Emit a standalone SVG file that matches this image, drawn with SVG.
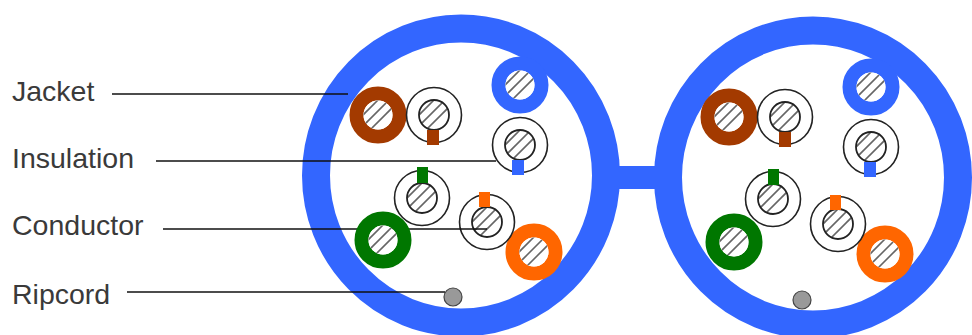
<svg xmlns="http://www.w3.org/2000/svg" width="972" height="335" viewBox="0 0 972 335">
<style>
.jacket{fill:none;stroke:#3366ff;stroke-width:28}
.bridge{fill:#3366ff}
.lbl{font-family:"Liberation Sans",Arial,sans-serif;font-size:28.5px;fill:#3a3a3a}
.lead{stroke:#111;stroke-width:1.6;fill:none}
.ins{fill:#fff;stroke:#222;stroke-width:1.6}
.cond{stroke:#222;stroke-width:1.8;fill:none}
.hatch{stroke:#666;stroke-width:1.6}
.rip{fill:#999;stroke:#444;stroke-width:1.2}
</style>
<defs>
<clipPath id="cc"><circle r="14.5"/></clipPath>
<g id="hatch"><circle r="14.5" fill="#fff"/><g clip-path="url(#cc)" class="hatch"><line x1="-20" y1="5" x2="5" y2="-20"/><line x1="-20" y1="16" x2="16" y2="-20"/><line x1="-9" y1="16" x2="16" y2="-9"/></g></g>
<g id="solid"><circle r="21.5" fill="none" stroke-width="14" stroke="currentColor"/><use href="#hatch"/></g>
<g id="wired"><circle r="27.5" class="ins"/><use href="#hatch"/><circle r="15" class="cond"/></g>
</defs>
<g id="cable-left"><ellipse class="jacket" cx="461" cy="175.5" rx="145" ry="147"/></g>
<g id="cable-right"><ellipse class="jacket" cx="813" cy="177.5" rx="145" ry="147"/></g>
<g id="bridge"><rect class="bridge" x="618" y="166" width="40" height="23"/></g>
<g id="left-pairs">
<use href="#solid" x="378" y="115" color="#a33a00"/>
<use href="#solid" x="520" y="85" color="#3366ff"/>
<use href="#solid" x="534" y="252" color="#ff6600"/>
<use href="#wired" x="434" y="115"/><rect x="427" y="130" width="12" height="15" fill="#a33a00"/>
<use href="#wired" x="520" y="145"/><rect x="512" y="160" width="12" height="15" fill="#3366ff"/>
<use href="#wired" x="422" y="198"/><rect x="417" y="167" width="11" height="16" fill="#007700"/>
<use href="#wired" x="487" y="222"/><rect x="479" y="192" width="11" height="15" fill="#ff6600"/>
<circle class="rip" cx="453" cy="297" r="9"/>
</g>
<g id="right-pairs">
<use href="#solid" x="729" y="117" color="#a33a00"/>
<use href="#solid" x="871" y="87" color="#3366ff"/>
<use href="#solid" x="734" y="242" color="#007700"/>
<use href="#solid" x="885" y="254" color="#ff6600"/>
<use href="#wired" x="785" y="117"/><rect x="779" y="132" width="12" height="15" fill="#a33a00"/>
<use href="#wired" x="871" y="147"/><rect x="864" y="162" width="12" height="15" fill="#3366ff"/>
<use href="#wired" x="773" y="199"/><rect x="768" y="169" width="11" height="16" fill="#007700"/>
<use href="#wired" x="838" y="224"/><rect x="830" y="195" width="11" height="15" fill="#ff6600"/>
<circle class="rip" cx="802" cy="300" r="9"/>
</g>
<g id="connectors">
<line class="lead" x1="112" y1="94" x2="348" y2="94"/>
<line class="lead" x1="156" y1="161" x2="496" y2="161"/>
<line class="lead" x1="163" y1="229" x2="487" y2="229"/>
<line class="lead" x1="127" y1="292" x2="445" y2="292"/>
</g>
<g id="left-green"><use href="#solid" x="383" y="240" color="#007700"/></g>
<g id="label-jacket"><text class="lbl" x="12" y="101">Jacket</text></g>
<g id="label-insulation"><text class="lbl" x="12" y="168">Insulation</text></g>
<g id="label-conductor"><text class="lbl" x="12" y="235">Conductor</text></g>
<g id="label-ripcord"><text class="lbl" x="12" y="304">Ripcord</text></g>
</svg>
